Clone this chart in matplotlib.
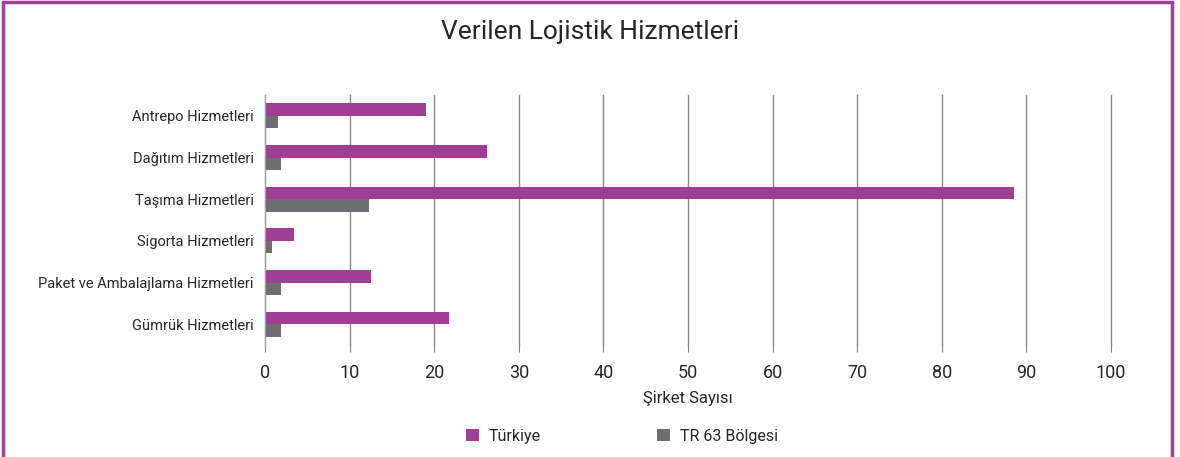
import matplotlib
matplotlib.use("Agg")
import matplotlib.pyplot as plt
from matplotlib.patches import Rectangle
import numpy as np

plt.rcParams['font.family'] = ['Roboto', 'DejaVu Sans']

categories = ["Antrepo Hizmetleri", "Dağıtım Hizmetleri", "Taşıma Hizmetleri",
              "Sigorta Hizmetleri", "Paket ve Ambalajlama Hizmetleri", "Gümrük Hizmetleri"]
turkiye = [19.0, 26.2, 88.5, 3.4, 12.5, 21.7]
tr63 = [1.5, 1.9, 12.3, 0.8, 1.9, 1.9]
series_names = ["Türkiye", "TR 63 Bölgesi"]
xticks = list(range(0, 101, 10))

purple = "#A03E96"
gray = "#6D6E71"
text_col = "#262626"

fig = plt.figure(figsize=(11.8, 4.57), dpi=100)
ax = fig.add_axes([0.2246, 0.245, 0.717, 0.547])

y = np.arange(len(categories))
h = 0.3
ax.barh(y - h / 2, turkiye, height=h, color=purple, label=series_names[0])
ax.barh(y + h / 2, tr63, height=h, color=gray, label=series_names[1])

ax.set_ylim(len(categories) - 0.5, -0.5)
ax.set_xlim(0, 100)
ax.set_xticks(xticks)
ax.set_xticklabels([str(t) for t in xticks], fontsize=13, color=text_col)
ax.set_yticks(y)
ax.set_yticklabels(categories, fontsize=10.5, color=text_col)
ax.tick_params(axis='y', length=0, pad=8)
ax.tick_params(axis='x', length=5, color="#808080", pad=9)
ax.xaxis.grid(True, color="#8a8a8a", lw=1)
for gl in ax.get_xgridlines():
    gl.set_clip_on(False)
ax.set_axisbelow(True)
for s in ["top", "right", "bottom"]:
    ax.spines[s].set_visible(False)
ax.spines["left"].set_color("#a0a0a0")
ax.set_xlabel("Şirket Sayısı", fontsize=12, labelpad=6, color=text_col)

fig.text(0.5, 0.93, "Verilen Lojistik Hizmetleri", ha="center", va="center",
         fontsize=19, color=text_col)

fig.legend(loc="center", bbox_to_anchor=(0.527, 0.045), ncol=2, frameon=False,
           fontsize=11.5, handlelength=0.8, handleheight=0.8, columnspacing=7.3,
           handletextpad=0.6, labelcolor=text_col)

fig.patches.append(Rectangle((3 / 1180, -0.05), 1169 / 1180, 1.045, transform=fig.transFigure,
                             fill=False, edgecolor=purple, lw=2.5))

fig.savefig("out.png", dpi=100)
